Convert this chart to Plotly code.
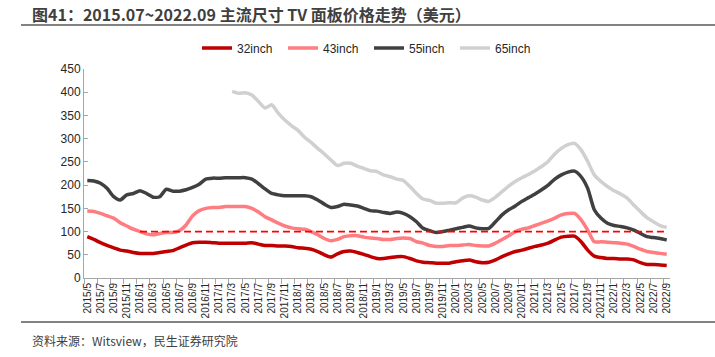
import plotly.graph_objects as go

# Monthly categories 2015/5 .. 2022/9
months = []
y, m = 2015, 5
while (y, m) <= (2022, 9):
    months.append(f"{y}/{m}")
    m += 1
    if m > 12:
        m = 1
        y += 1

tick_labels = months[::2]

s32 = [89, 83, 76, 70, 65, 60, 58, 55, 53, 53, 53, 55, 57, 59, 65, 71, 76, 77, 77, 76,
       75, 75, 75, 75, 75, 76, 73, 70, 70, 69, 69, 68, 65, 64, 62, 57, 50, 45, 52, 57,
       58, 55, 51, 46, 42, 42, 44, 46, 46, 42, 37, 34, 33, 32, 32, 32, 35, 37, 39, 35,
       33, 34, 39, 46, 52, 57, 60, 64, 68, 71, 75, 82, 88, 90, 90, 78, 60, 47, 44, 42,
       42, 41, 41, 39, 33, 29, 29, 28, 27]
s43 = [144, 143, 139, 134, 129, 119, 112, 105, 100, 95, 93, 96, 98, 98, 102, 114, 134, 145, 150, 152,
       152, 154, 154, 154, 154, 150, 142, 132, 125, 118, 112, 108, 106, 105, 100, 93, 85, 80, 83, 89,
       91, 91, 88, 86, 85, 83, 83, 85, 86, 85, 78, 75, 70, 68, 68, 70, 70, 71, 72, 70,
       69, 69, 75, 83, 91, 100, 105, 108, 113, 118, 123, 129, 136, 139, 139, 125, 103, 78, 78, 77,
       76, 75, 73, 68, 62, 57, 55, 53, 51]
s55 = [210, 209, 204, 193, 175, 168, 179, 182, 188, 182, 174, 175, 191, 187, 187, 190, 195, 202, 213, 215,
       215, 216, 216, 216, 216, 213, 203, 192, 182, 179, 177, 177, 177, 177, 175, 168, 159, 152, 154, 159,
       157, 155, 150, 145, 144, 141, 139, 142, 139, 132, 121, 107, 102, 98, 100, 103, 106, 109, 112, 108,
       106, 107, 121, 136, 147, 155, 165, 173, 181, 190, 200, 213, 222, 228, 230, 218, 193, 147, 129, 118,
       113, 111, 108, 103, 96, 89, 87, 85, 82]
s65 = [None] * 22 + [
       402, 398, 399, 394, 380, 366, 373, 355, 340, 328, 318, 303, 292, 279, 267, 254, 242, 247,
       247, 241, 236, 231, 229, 222, 218, 213, 210, 197, 182, 170, 167, 161, 161, 162, 162, 172, 177, 174,
       168, 165, 174, 186, 198, 208, 216, 223, 231, 240, 251, 267, 279, 287, 290, 276, 251, 222, 208, 197,
       188, 181, 172, 157, 143, 130, 121, 113, 109]
ref100 = [None] * 8 + [100] * 81

series_names = ["32inch", "43inch", "55inch", "65inch"]
series_vals = [s32, s43, s55, s65]
series_colors = ["#C00000", "#FF7C80", "#404040", "#D0D0D0"]

xs = list(range(len(months)))

fig = go.Figure()
for name, vals, col in zip(series_names, series_vals, series_colors):
    fig.add_trace(go.Scatter(
        x=xs, y=vals, name=name, mode="lines",
        line=dict(color=col, width=3.5, shape="spline", smoothing=0.6),
        connectgaps=False,
    ))
fig.add_trace(go.Scatter(
    x=xs, y=ref100, mode="lines", showlegend=False,
    line=dict(color="#FF0000", width=1.8, dash="7px,4px"),
))

W, H = 715, 357
L, R, T, B = 84, 45, 69, 79
pw, ph = W - L - R, H - T - B

def px(xp):
    return (xp - L) / pw

def py(yp):
    return (H - B - yp) / ph

fig.update_layout(
    width=W, height=H,
    margin=dict(l=L, r=R, t=T, b=B, pad=0),
    paper_bgcolor="white", plot_bgcolor="white",
    font=dict(family="Liberation Sans, Arial, sans-serif", size=12, color="#404040"),
    showlegend=True,
    legend=dict(
        orientation="h", x=px(197), xanchor="left", y=py(48), yanchor="middle",
        font=dict(size=12, color="#262626"), entrywidth=41, entrywidthmode="pixels",
        bgcolor="rgba(0,0,0,0)", borderwidth=0, traceorder="normal",
    ),
    xaxis=dict(
        range=[-0.5, len(months) - 0.5], tickmode="array",
        tickvals=xs[::2], ticktext=tick_labels, tickangle=-90,
        tickfont=dict(size=10, color="#262626"), ticks="",
        showline=True, linecolor="#A6A6A6", linewidth=1,
        showgrid=False, zeroline=False,
        minor=dict(tickmode="array", tickvals=[i - 0.5 for i in range(0, len(months) + 1, 2)],
                   ticks="outside", ticklen=5, tickcolor="#A6A6A6", tickwidth=1, showgrid=False),
    ),
    yaxis=dict(
        range=[0, 450], tickmode="linear", tick0=0, dtick=50,
        tickfont=dict(size=12, color="#262626"),
        showline=True, linecolor="#A6A6A6", linewidth=1,
        ticks="inside", ticklen=4, tickcolor="#A6A6A6",
        showgrid=False, zeroline=False,
    ),
)

# Title / source decorations
fig.add_annotation(
    text="<b>图41：2015.07~2022.09 主流尺寸 TV 面板价格走势（美元）</b>",
    xref="paper", yref="paper", x=px(30), y=py(14), xanchor="left", yanchor="middle",
    showarrow=False, font=dict(family="Noto Sans CJK SC, sans-serif", size=16, color="#404040"),
)
fig.add_annotation(
    text="资料来源：Witsview，民生证券研究院",
    xref="paper", yref="paper", x=px(30), y=py(340), xanchor="left", yanchor="middle",
    showarrow=False, font=dict(family="Noto Sans CJK SC, sans-serif", size=12, color="#404040"),
)
fig.add_shape(type="line", xref="paper", yref="paper", x0=px(21), x1=px(715), y0=py(25), y1=py(25),
              line=dict(color="#595959", width=1.5))
fig.add_shape(type="line", xref="paper", yref="paper", x0=px(21), x1=px(715), y0=py(322), y1=py(322),
              line=dict(color="#595959", width=1.5))

fig.write_html(
    "out.html",
    config={"displayModeBar": False},
    post_script="document.body.style.margin='0';document.body.style.overflow='hidden';",
)
